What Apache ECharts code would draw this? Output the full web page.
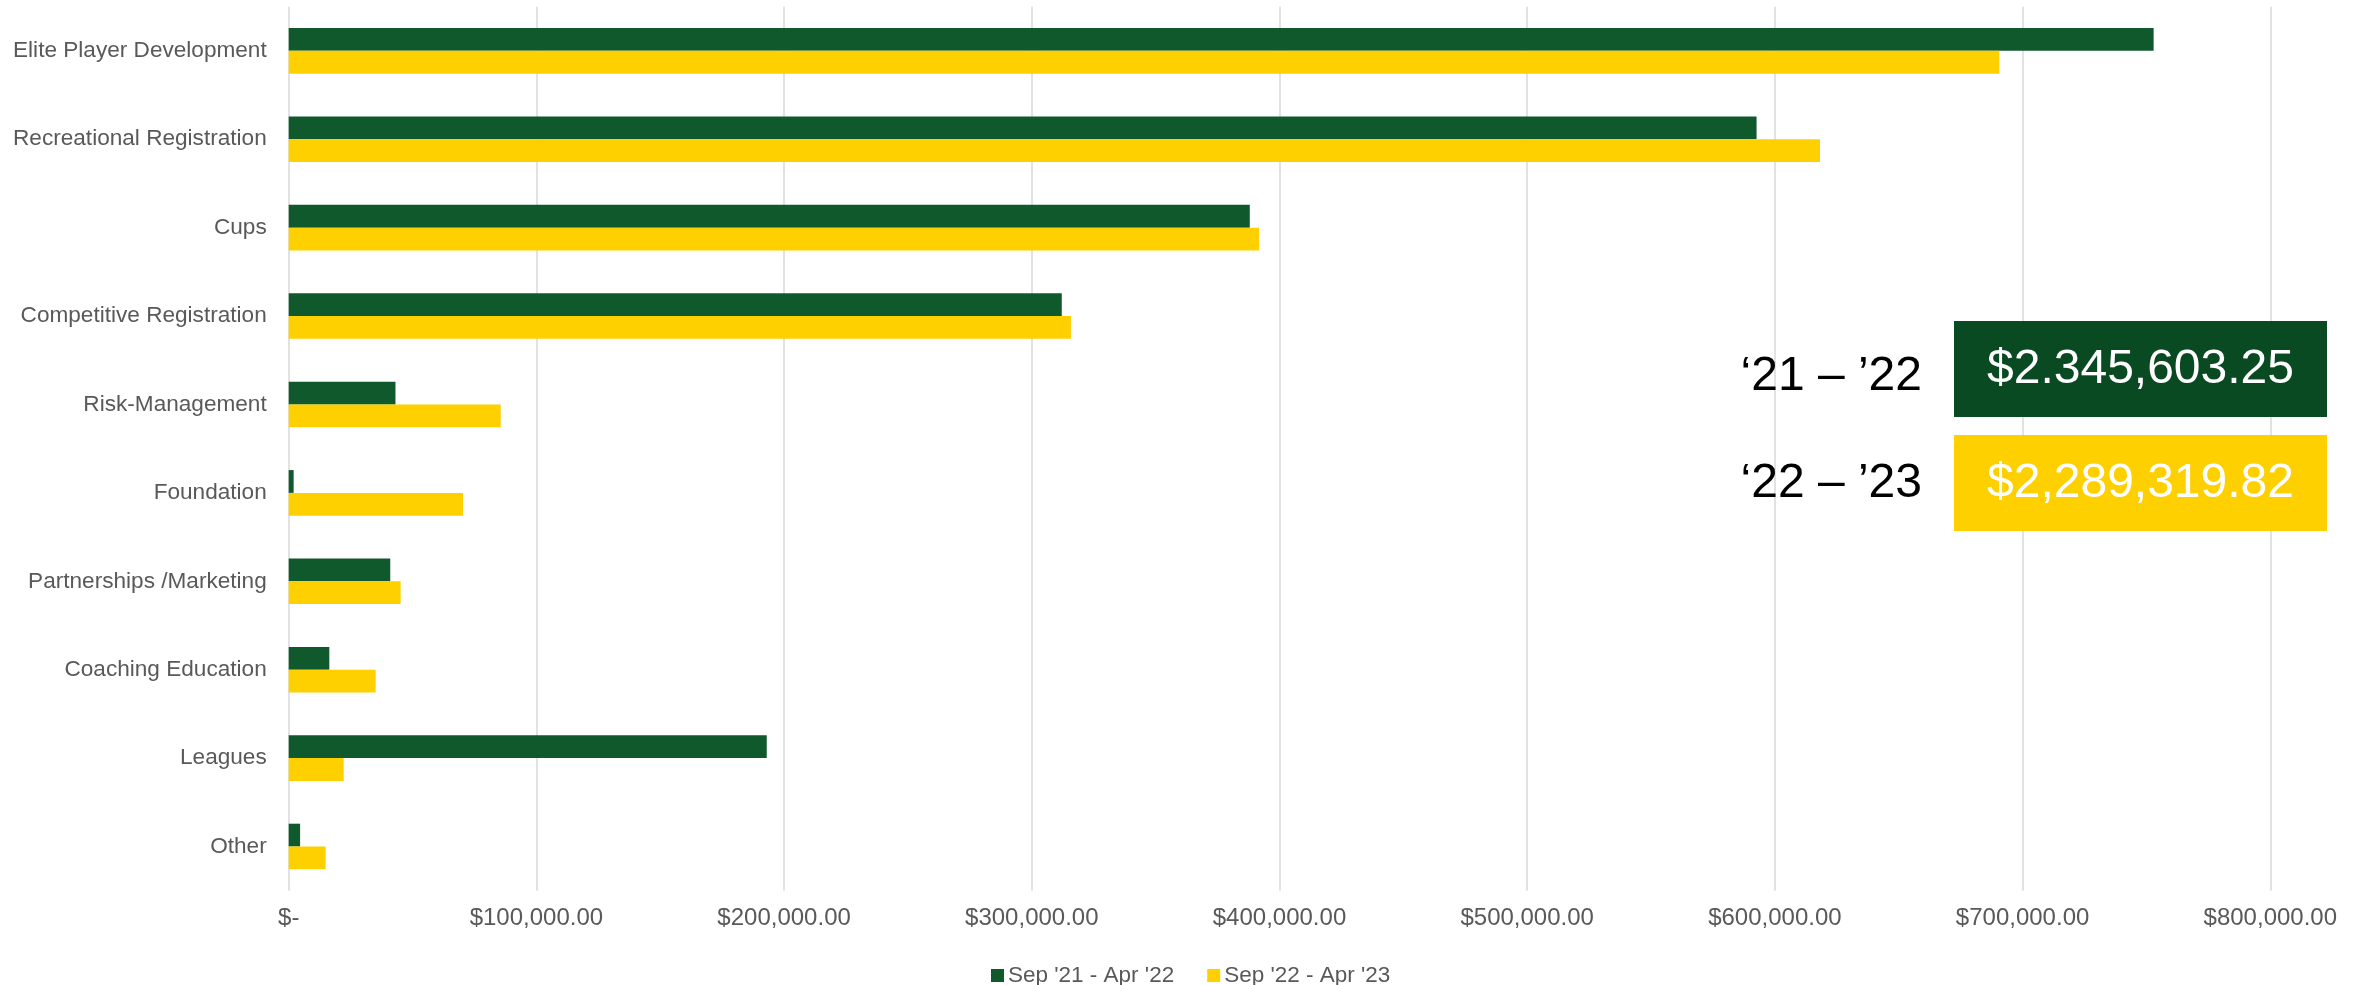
<!DOCTYPE html>
<html>
<head>
<meta charset="utf-8">
<script src="https://cdn.jsdelivr.net/npm/echarts@6/dist/echarts.min.js"></script>
<style>
html,body{margin:0;padding:0;background:#fff;}
#chart{width:2369px;height:985px;}
</style>
</head>
<body>
<div id="chart"></div>
<script>
var categories = ["Elite Player Development","Recreational Registration","Cups","Competitive Registration","Risk-Management","Foundation","Partnerships /Marketing","Coaching Education","Leagues","Other"];
var seriesNames = ["Sep '21 - Apr '22","Sep '22 - Apr '23"];
var values2122 = [752900,592600,388000,312100,43100,2000,41000,16400,193000,4600];
var values2223 = [690600,618200,391800,315800,85600,70400,45200,35100,22200,14900];
var xTickLabels = ["$-","$100,000.00","$200,000.00","$300,000.00","$400,000.00","$500,000.00","$600,000.00","$700,000.00","$800,000.00"];
var periodLabels = ["\u201821 \u2013 \u201922","\u201822 \u2013 \u201923"];
var totals = ["$2.345,603.25","$2,289,319.82"];

var GREEN = "#10592D", YELLOW = "#FFD000", BOXGREEN = "#0A4A22";
var FONT = "'Liberation Sans', Arial, sans-serif";

var chart = echarts.init(document.getElementById('chart'));
var boxL = 1954, boxW = 373, boxH = 96;
var box1T = 321, box2T = 435;
chart.setOption({
  animation: false,
  textStyle: {fontFamily: FONT},
  grid: {left: 288.7, right: 98.7, top: 6.65, bottom: 94.3, containLabel: false},
  legend: {
    data: seriesNames, left: 986, top: 959, icon: 'rect',
    itemWidth: 13, itemHeight: 13, itemGap: 33,
    textStyle: {fontSize: 22.5, color: '#595959', fontFamily: FONT, padding: [0,0,0,-1]}
  },
  xAxis: {
    type: 'value', min: 0, max: 800000, interval: 100000,
    axisLine: {show: false}, axisTick: {show: false},
    splitLine: {show: true, lineStyle: {color: '#d9d9d9', width: 1.5}},
    axisLabel: {
      fontSize: 24, color: '#595959', margin: 16, fontFamily: FONT,
      formatter: function (v) { return xTickLabels[Math.round(v / 100000)]; }
    }
  },
  yAxis: {
    type: 'category', data: categories, inverse: true,
    axisLine: {show: false}, axisTick: {show: false},
    axisLabel: {fontSize: 22.6, color: '#595959', margin: 22, fontFamily: FONT}
  },
  series: [
    {name: seriesNames[0], type: 'bar', data: values2122, barWidth: 22.8, barGap: '0%', itemStyle: {color: GREEN}},
    {name: seriesNames[1], type: 'bar', data: values2223, barWidth: 22.8, barGap: '0%', itemStyle: {color: YELLOW}}
  ],
  graphic: {
    elements: [
      {type: 'rect', z: 100, left: boxL, top: box1T, shape: {width: boxW, height: boxH}, style: {fill: BOXGREEN}},
      {type: 'rect', z: 100, left: boxL, top: box2T, shape: {width: boxW, height: boxH}, style: {fill: YELLOW}},
      {type: 'text', z: 101, x: boxL + boxW / 2, y: box1T + boxH / 2 + 1, style: {text: totals[0], fill: '#fff', font: '48px ' + FONT, textAlign: 'center', textVerticalAlign: 'middle'}},
      {type: 'text', z: 101, x: boxL + boxW / 2, y: box2T + boxH / 2 + 1, style: {text: totals[1], fill: '#fff', font: '48px ' + FONT, textAlign: 'center', textVerticalAlign: 'middle'}},
      {type: 'text', z: 101, x: 1922, y: 377, style: {text: periodLabels[0], fill: '#000', font: '48px ' + FONT, textAlign: 'right', textVerticalAlign: 'middle'}},
      {type: 'text', z: 101, x: 1922, y: 484, style: {text: periodLabels[1], fill: '#000', font: '48px ' + FONT, textAlign: 'right', textVerticalAlign: 'middle'}}
    ]
  }
});
</script>
</body>
</html>
